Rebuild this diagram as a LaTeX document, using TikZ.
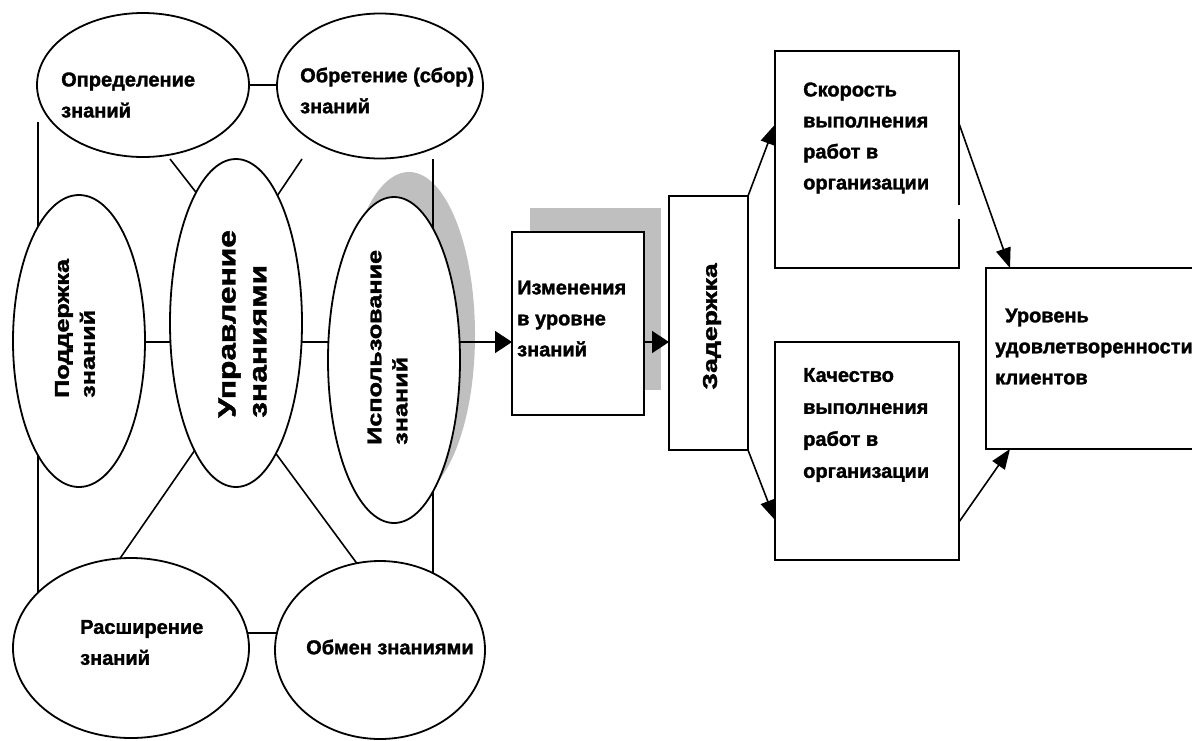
\documentclass[tikz,border=0pt]{standalone}
\usepackage{fontspec}
\setmainfont{Liberation Sans}[BoldFeatures={FakeBold=1.6}]
\usetikzlibrary{shapes.geometric,arrows.meta,calc}
\pgfdeclarelayer{back}
\pgfdeclarelayer{bg}
\pgfsetlayers{back,bg,main}
\begin{document}
\begin{tikzpicture}[x=1pt,y=-1pt,
  ell/.style={ellipse,draw,fill=white,line width=1.8pt,inner sep=0pt,outer sep=0pt},
  box/.style={rectangle,draw,fill=white,line width=2pt,inner sep=0pt,outer sep=0pt},
  lbl/.style={font=\bfseries\fontsize{20}{31}\selectfont,align=left,inner sep=0pt},
  rlbl/.style={font=\bfseries\fontsize{20}{26}\selectfont,align=left,inner sep=0pt,rotate=90,xscale=1.26,anchor=west},
  bigrlbl/.style={font=\bfseries\fontsize{25}{31}\selectfont,align=left,inner sep=0pt,rotate=90,xscale=1.27,anchor=west},
  conn/.style={line width=1.6pt},
  arr/.style={line width=1.6pt,-{Triangle[length=17pt,width=22pt]}},
  darr/.style={line width=1.6pt,-{Triangle[length=20pt,width=15pt]}},
  shade/.style={fill=black!25,draw=none},
]
\useasboundingbox (0,0) rectangle (1192,740);

% ellipses
\node[ell,minimum width=212pt,minimum height=144pt] (def) at (143,85) {};
\node[ell,minimum width=206pt,minimum height=145pt] (obr) at (380,86) {};
\node[ell,minimum width=132pt,minimum height=292pt] (pod) at (79,341) {};
\node[ell,minimum width=132pt,minimum height=328pt] (upr) at (236,323) {};
\node[ell,minimum width=132pt,minimum height=326pt] (isp) at (394,360) {};
\node[ell,minimum width=236pt,minimum height=180pt] (ras) at (131,648) {};
\node[ell,minimum width=210pt,minimum height=178pt] (obm) at (380,650) {};

% boxes
\node[box,minimum width=132pt,minimum height=183pt] (izm) at (578,323.5) {};
\node[box,minimum width=79pt,minimum height=254pt] (zad) at (708.5,323) {};
\node[box,minimum width=184pt,minimum height=217pt] (sko) at (867,159.5) {};
\node[box,minimum width=184pt,minimum height=218pt] (kach) at (867,451) {};
\node[box,minimum width=214pt,minimum height=181pt] (ur) at (1093,358.5) {};
\fill[white] (955,205) rectangle (963,219);

% free ends
\coordinate (f1) at (170,159);
\coordinate (f2) at (302,159);
\coordinate (vl) at (38,122);
\coordinate (vr) at (433,159);
\coordinate (mid) at (0,342);

\begin{pgfonlayer}{back}
  \node[shade,ellipse,minimum width=132pt,minimum height=326pt,inner sep=0pt] (ispsh) at (409,335) {};
  \fill[black!25] (530,208) rectangle (661,390);
\end{pgfonlayer}

\begin{pgfonlayer}{bg}
  \draw[conn] (def.center) -- (obr.center |- def.center);
  \draw[conn] (f1) -- (upr.107.5);
  \draw[conn] (f2) -- (upr.72.5);
  \draw[conn] (upr.252.5) -- (ras.97.6);
  \draw[conn] (upr.287.5) -- (obm.105.7);
  \draw[conn] (ras.center |- 0,633) -- (obm.center |- 0,633);
  \draw[conn] (vl) -- (vl |- ras.center);
  \draw[conn] (vr) -- (vr |- obm.center);
  \draw[conn] (pod.center |- mid) -- (upr.center |- mid);
  \draw[conn] (upr.center |- mid) -- (isp.center |- mid);
  \draw[arr] (isp.center |- mid) -- (izm.west |- mid);
  \draw[arr] (izm.east |- mid) -- (zad.west |- mid);
  \draw[darr] (zad.north east) -- ([yshift=35pt]sko.west);
  \draw[darr] (zad.south east) -- ([yshift=-69pt]kach.west);
  \draw[darr] ([yshift=36pt]sko.east) -- ([xshift=24pt]ur.north west);
  \draw[darr] ([yshift=-71pt]kach.east) -- ([xshift=24pt]ur.south west);
\end{pgfonlayer}

% labels
\node[lbl,anchor=west] (tdef) at (61,95) {Определение\\знаний};
\node[lbl,anchor=west] (tobr) at (300,90.5) {Обретение (сбор)\\знаний};
\node[lbl,anchor=west] (tras) at (80,642.5) {Расширение\\знаний};
\node[lbl,anchor=west] (tobm) at (306,647) {Обмен знаниями};
\node[lbl,anchor=west] (tizm) at (517,318.5) {Изменения\\в уровне\\знаний};
\node[lbl,anchor=west] (tsko) at (803,138) {Скорость\\выполнения\\работ в\\организации};
\node[lbl,anchor=west,font=\bfseries\fontsize{20}{32}\selectfont] (tkach) at (803,425) {Качество\\выполнения\\работ в\\организации};
\node[lbl,anchor=west] (tur) at (995,346.5) {\hspace*{10pt}Уровень\\удовлетворенности\\клиентов};
\node[rlbl] (tpod) at (75,398) {Поддержка\\знаний};
\node[bigrlbl] (tupr) at (242.5,418) {Управление\\знаниями};
\node[rlbl] (tisp) at (387.5,445) {Использование\\знаний};
\node[rlbl,xscale=1.06] (tzad) at (712,390) {Задержка};
\end{tikzpicture}
\end{document}
